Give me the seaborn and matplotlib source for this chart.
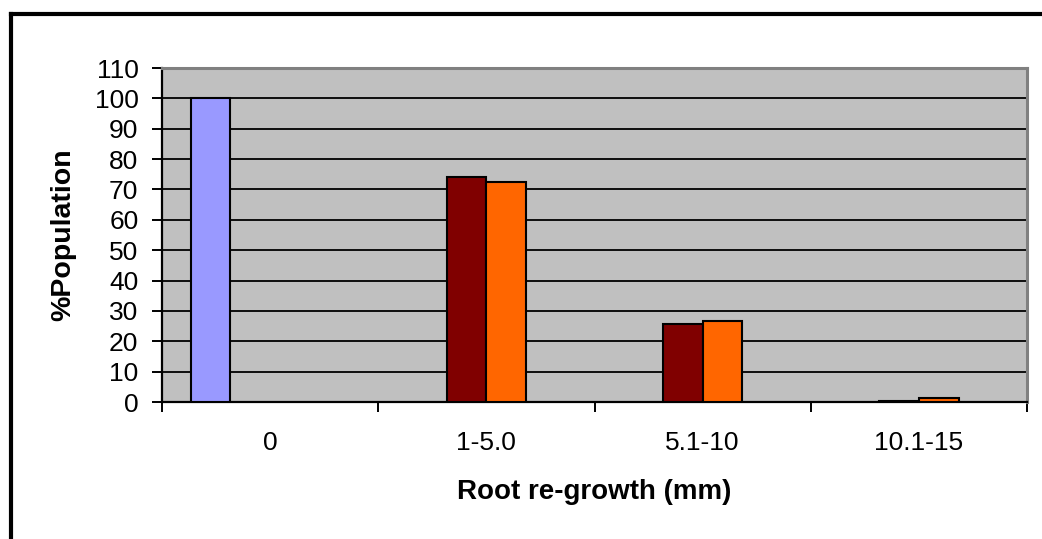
import numpy as np
import pandas as pd
import seaborn as sns
import matplotlib.pyplot as plt
from matplotlib.lines import Line2D
from matplotlib.ticker import FixedLocator, NullFormatter

# Root re-growth classes and % of population per treatment
categories = ["0", "1-5.0", "5.1-10", "10.1-15"]
series_names = ["Series 1", "Series 2", "Series 3", "Series 4"]
series1 = [100, np.nan, np.nan, np.nan]
series2 = [np.nan, 74.0, 25.7, 0.3]
series3 = [np.nan, 72.3, 26.8, 1.3]
series4 = [np.nan, np.nan, np.nan, np.nan]
y_ticks = list(range(0, 111, 10))

colors = ["#9999FF", "#800000", "#FF6600", "#FFFFCC"]

rows = []
for name, vals in zip(series_names, [series1, series2, series3, series4]):
    for cat, v in zip(categories, vals):
        rows.append({"class": cat, "series": name, "value": v})
df = pd.DataFrame(rows)

sns.set_theme(style="white")
plt.rcParams["font.family"] = ["Liberation Sans", "DejaVu Sans"]
plt.rcParams["text.color"] = "black"
plt.rcParams["xtick.color"] = "black"
plt.rcParams["ytick.color"] = "black"
plt.rcParams["axes.labelcolor"] = "black"

fig = plt.figure(figsize=(10.42, 5.39), dpi=100)
W, H = 1042, 539
ax = fig.add_axes([162 / W, 1 - 402 / H, (1027 - 162) / W, (402 - 68) / H])
ax.set_facecolor("#C0C0C0")

sns.barplot(
    data=df, x="class", y="value", hue="series",
    order=categories, hue_order=series_names,
    palette=colors, saturation=1, width=0.735, dodge=True,
    edgecolor="black", linewidth=1.5, errorbar=None,
    legend=False, ax=ax, zorder=3,
)

ax.set_ylim(0, 110)
ax.set_xlim(-0.5, len(categories) - 0.5)
ax.set_yticks(y_ticks)
ax.set_yticklabels([str(t) for t in y_ticks])
ax.yaxis.grid(True, color="black", linewidth=1.3, zorder=0)
ax.set_axisbelow(True)

# Category boundaries carry the tick marks, labels sit between them
ax.xaxis.set_major_locator(FixedLocator(np.arange(-0.5, len(categories), 1.0)))
ax.xaxis.set_major_formatter(NullFormatter())
ax.xaxis.set_minor_locator(FixedLocator(np.arange(len(categories))))
ax.set_xticklabels(categories, minor=True)
ax.tick_params(axis="x", which="major", direction="out", length=7, width=1.4,
               color="black", bottom=True)
ax.tick_params(axis="x", which="minor", length=0, pad=21, labelsize=19,
               labelcolor="black")
ax.tick_params(axis="y", direction="out", length=7, width=1.4, color="black",
               left=True, pad=10, labelsize=19, labelcolor="black")

for side in ["left", "bottom"]:
    ax.spines[side].set_color("black")
    ax.spines[side].set_linewidth(1.6)
for side in ["top", "right"]:
    ax.spines[side].set_color("#808080")
    ax.spines[side].set_linewidth(2.2)

ax.set_xlabel("Root re-growth (mm)", fontsize=20, fontweight="bold", color="black")
ax.set_ylabel("%Population", fontsize=20.5, fontweight="bold", color="black")
ax.xaxis.set_label_coords(0.5, (402 - 479) / 334)
ax.yaxis.set_label_coords((76 - 162) / 865, 0.5)

# Chart-area frame along the top and left edges
fig.add_artist(Line2D([11 / W, 11 / W], [-0.05, 1 - 14 / H], transform=fig.transFigure,
                      color="black", linewidth=3.0, solid_capstyle="projecting"))
fig.add_artist(Line2D([11 / W, 1.05], [1 - 14 / H, 1 - 14 / H], transform=fig.transFigure,
                      color="black", linewidth=3.0, solid_capstyle="projecting"))

fig.savefig("out.png", dpi=100, facecolor="white")
